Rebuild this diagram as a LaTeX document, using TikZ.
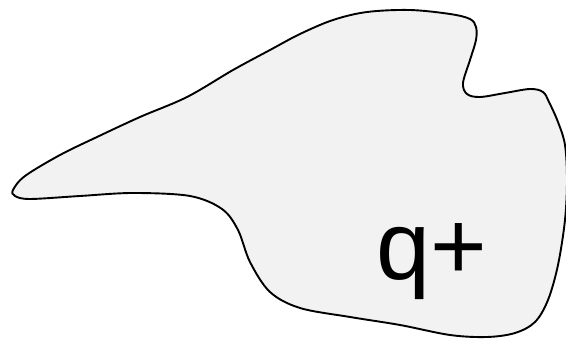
\documentclass[tikz,border=0pt]{standalone}
\usepackage{fontspec}
\setmainfont{Liberation Sans}
\usepackage{xcolor}
\definecolor{blobgray}{RGB}{242, 242, 242}

\begin{document}
\begin{tikzpicture}[x=1pt, y=-1pt,
    blob/.style={draw=black, fill=blobgray, line width=1.9pt, line join=round},
    every node/.style={font=\fontsize{97}{116}\selectfont}]
  \useasboundingbox (0,0) rectangle (566,339);
  % REGION
  \draw[blob] plot[smooth cycle, tension=0.55] coordinates {
      (13,190) (25,176) (60,155) (97,137) (140,117) (187,97) (233,70)
      (270,50) (300,34) (333,20) (367,12) (410,10) (450,14) (470,19)
      (476,27) (476,40) (470,60) (463,83) (467,94) (480,97) (505,93)
      (530,89) (543,92) (549,102) (558,122) (565,145) (567,180) (565,220)
      (558,265) (548,300) (535,322) (515,333) (487,337) (450,335) (400,325)
      (350,317) (300,308) (270,292) (250,262) (238,230) (222,209) (190,196)
      (133,193) (80,196) (30,199) (15,196)};
  % LABEL
  \node[anchor=base west, inner sep=0pt] (qplus) at (376,280) {q+};
\end{tikzpicture}
\end{document}
